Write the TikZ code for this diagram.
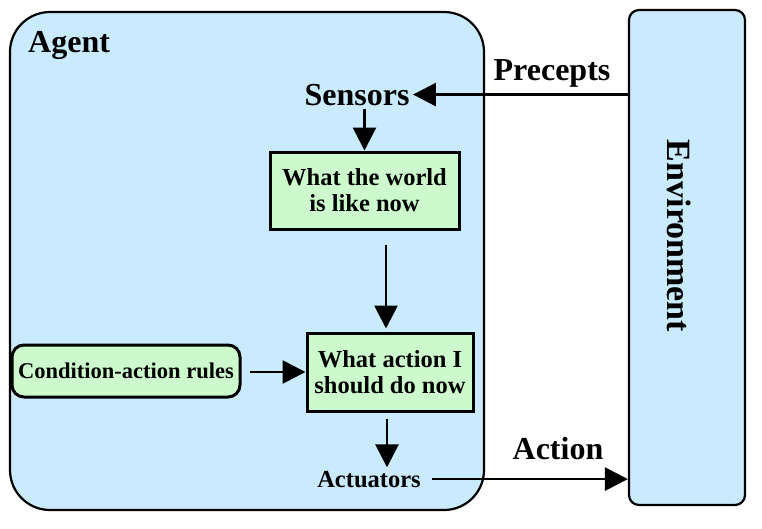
\documentclass[tikz,border=0pt]{standalone}
\usepackage{fontspec}
\setmainfont{Liberation Serif}
\usetikzlibrary{arrows.meta}
\definecolor{agentblue}{RGB}{201,235,253}
\definecolor{boxgreen}{RGB}{204,250,204}

\begin{document}
\begin{tikzpicture}[x=1pt, y=-1pt,
  big/.style={font=\fontsize{32}{32}\selectfont\bfseries},
  mid/.style={font=\fontsize{24.5}{26}\selectfont\bfseries},
  small/.style={font=\fontsize{22.5}{24}\selectfont\bfseries},
  greenbox/.style={draw, line width=3pt, fill=boxgreen, align=center, inner sep=2pt},
  arr/.style={line width=2.8pt, -{Triangle[length=23pt, width=23pt]}}]
  \useasboundingbox (0,0) rectangle (762,528);

  % agent box
  \node[draw, line width=2.2pt, fill=agentblue, rounded corners=40pt,
        minimum width=474pt, minimum height=498pt] (agent) at (247,261) {};
  \node[big, anchor=base west, inner sep=0pt] (agentlbl) at (28,52) {Agent};

  % environment box
  \node[draw, line width=2.2pt, fill=agentblue, rounded corners=10pt,
        minimum width=116pt, minimum height=495pt] (env) at (687,257.5) {};
  \node[font=\fontsize{34}{34}\selectfont\bfseries, rotate=-90] (envlbl) at (679,236) {Environment};

  % inside the agent
  \node[big, anchor=base] (sensors) at (357,105) {Sensors};
  \node[greenbox, mid, minimum width=189pt, minimum height=77pt] (world) at (364.5,190.5)
    {What the world\\is like now};
  \node[greenbox, mid, minimum width=166pt, minimum height=78pt] (action) at (390,372)
    {What action I\\should do now};
  \node[greenbox, small, rounded corners=12pt, minimum width=228pt, minimum height=52pt] (rules) at (126,371)
    {Condition-action rules};
  \node[mid, anchor=base] (actuators) at (369,487) {Actuators};

  % arrows
  \draw[arr] (env.west |- sensors) -- (sensors.east);
  \node[big, anchor=base] (precepts) at (552,80) {Precepts};
  \draw[arr] (sensors.south -| world.north) -- (world.north);
  \draw[arr, shorten <=14pt, shorten >=3pt] (world.south -| 386,0) -- (action.north -| 386,0);
  \draw[arr, shorten <=8pt] (rules.east |- action) -- (action.west);
  \draw[arr, shorten <=6pt] (action.south -| 387,0) -- (actuators.north -| 387,0);
  \draw[arr, shorten <=8pt] (actuators.east) -- (actuators.east -| env.west);
  \node[big, anchor=base] (actionlbl) at (558,459) {Action};
\end{tikzpicture}
\end{document}
